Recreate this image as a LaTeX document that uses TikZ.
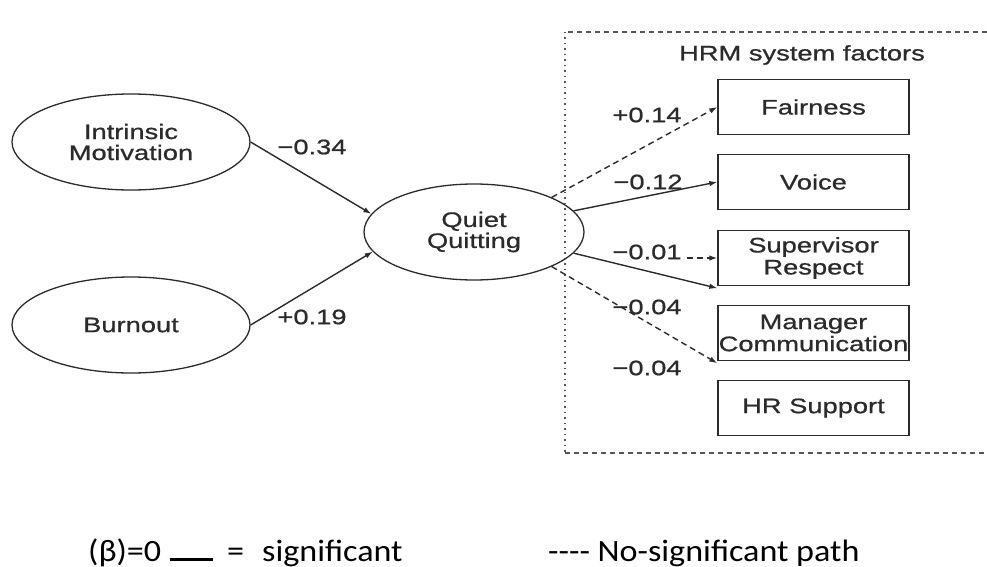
\documentclass[tikz,border=0pt]{standalone}
\usepackage{fontspec}
\setmainfont{Liberation Sans}[FakeStretch=1.3,FakeBold=0.8]
\newfontfamily\legendfont{Carlito}[FakeStretch=1.1]
\usetikzlibrary{arrows.meta,shapes.geometric}
\definecolor{ink}{HTML}{2B2B2B}
\definecolor{frame}{HTML}{555555}
\begin{document}
\begin{tikzpicture}[x=1pt,y=-1pt,
  txt/.style={font=\fontsize{21}{21}\selectfont, text=ink, align=center, inner sep=0pt},
  oval/.style={txt, draw=ink, line width=1.3pt, ellipse, minimum width=238pt, minimum height=96pt},
  factor/.style={txt, draw=ink, line width=1.4pt, rectangle, minimum width=191pt, minimum height=55pt},
  coef/.style={txt},
  path/.style={draw=ink, line width=1.4pt, -{Latex[length=8pt,width=5.5pt]}},
  nspath/.style={path, dash pattern=on 6pt off 4pt},
  legend/.style={font=\legendfont\fontsize{31}{31}\selectfont, text=black, inner sep=0pt, anchor=base west}]
\useasboundingbox (0,0) rectangle (987,567);
\fill[white] (0,0) rectangle (987,567);

% frame of the HRM system factors
\coordinate (ftr) at (987,32);
\coordinate (ftl) at (565,32);
\coordinate (fbl) at (565,453);
\coordinate (fbr) at (987,453);
\draw[frame, line width=1.3pt, dash pattern=on 5pt off 4pt] (ftr) -- (ftl);
\draw[frame, line width=2pt, dash pattern=on 1.5pt off 4pt] (ftl) -- (fbl);
\draw[frame, line width=1.3pt, dash pattern=on 5pt off 4pt] (fbl) -- (fbr);
\node[txt] (hrm) at (802,55) {HRM system factors};

% latent variables
\node[oval] (im) at (131,142) {Intrinsic\\Motivation};
\node[oval] (bo) at (131,325) {Burnout};
\node[oval, minimum width=220pt] (qq) at (474,232) {Quiet\\Quitting};

% factors
\node[factor] (fa) at (813.5,107) {Fairness};
\node[factor] (vo) at (813.5,182) {Voice};
\node[factor, font=\fontsize{21}{22}\selectfont] (sr) at (813.5,258) {Supervisor\\Respect};
\node[factor, font=\fontsize{21}{22}\selectfont] (mc) at (813.5,333) {Manager\\Communication};
\node[factor] (hr) at (813.5,408) {HR Support};

% coefficients
\node[coef] (c34) at (312,147) {−0.34};
\node[coef] (c19) at (312,317) {+0.19};
\node[coef] (c14) at (647,115) {+0.14};
\node[coef] (c12) at (648,182) {−0.12};
\node[coef] (c01) at (647,252) {−0.01};
\node[coef] (c04a) at (647,307) {−0.04};
\node[coef] (c04b) at (647,368) {−0.04};

% paths
\draw[path] (im.east) -- (qq.170);
\draw[path] (bo.east) -- (qq.191);
\draw[nspath] (qq.24) -- (fa.west);
\draw[path] (qq.12) -- (vo.west);
\draw[path] (qq.-12) -- ([yshift=-2pt]sr.south west);
\draw[nspath] ([xshift=5pt]c01.east |- sr.west) -- (sr.west);
\draw[nspath] (qq.-24) -- ([yshift=-2pt]mc.south west);

% legend
\node[legend] (beta) at (88,561) {(β)=0};
\coordinate (rulea) at (170,559);
\coordinate (ruleb) at (213,559);
\draw[black, line width=3pt] (rulea) -- (ruleb);
\node[legend] (eq) at (227,561) {=};
\node[legend] (sig) at (262,561) {significant};
\node[legend] (ns) at (548,561) {-{}-{}-{}- No-significant path};
\end{tikzpicture}
\end{document}
